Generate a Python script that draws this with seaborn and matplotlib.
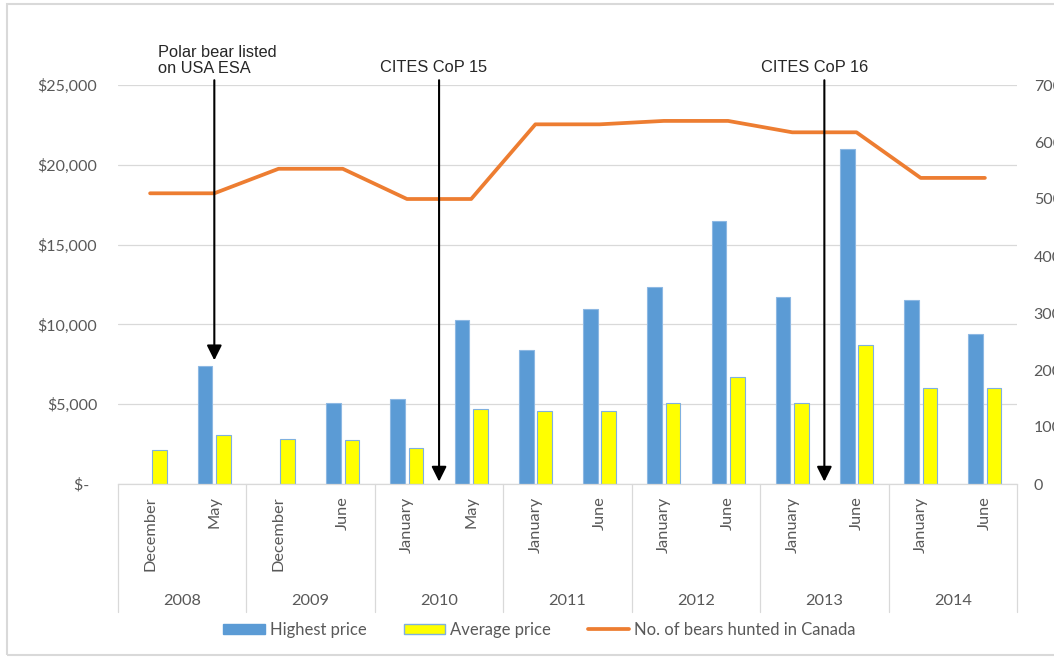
import numpy as np
import pandas as pd
import matplotlib
matplotlib.use("Agg")
import matplotlib.pyplot as plt
import seaborn as sns
from matplotlib.patches import Rectangle, Patch
from matplotlib.lines import Line2D
from matplotlib.ticker import FuncFormatter, FixedLocator
import matplotlib.transforms as mtransforms

# ---------------- data ----------------
months = ["December", "May", "December", "June", "January", "May", "January",
          "June", "January", "June", "January", "June", "January", "June"]
years = ["2008", "2008", "2009", "2009", "2010", "2010", "2011",
         "2011", "2012", "2012", "2013", "2013", "2014", "2014"]
highest_price = [np.nan, 7400, np.nan, 5100, 5350, 10250, 8400,
                 10950, 12350, 16450, 11700, 21000, 11500, 9400]
average_price = [2100, 3100, 2850, 2750, 2250, 4700, 4600,
                 4550, 5100, 6700, 5100, 8700, 6000, 6000]
bears_hunted = [510, 510, 553, 553, 500, 500, 631,
                631, 637, 637, 617, 617, 537, 537]
series_names = ["Highest price", "Average price", "No. of bears hunted in Canada"]
events = ["Polar bear listed\non USA ESA", "CITES CoP 15", "CITES CoP 16"]
event_x = [1, 4.5, 10.5]
event_tip = [7750, 150, 150]

# ---------------- style ----------------
sns.set_style("white")
plt.rcParams["font.family"] = ["Lato", "DejaVu Sans"]
BLUE = "#5B9BD5"
YELLOW = "#FFFF00"
ORANGE = "#ED7D31"
GRID = "#D9D9D9"
LABEL = "#595959"
ANN_FONT = ["Liberation Sans", "DejaVu Sans"]

slots = [f"{y}-{i}-{m}" for i, (y, m) in enumerate(zip(years, months))]
df = pd.DataFrame({
    "slot": slots * 2,
    "series": [series_names[0]] * len(slots) + [series_names[1]] * len(slots),
    "value": highest_price + average_price,
}).dropna()

fig = plt.figure(figsize=(10.54, 6.58), dpi=100)
ax = fig.add_axes([118 / 1054, 1 - 484 / 658, (1017 - 118) / 1054, (484 - 85) / 658])

sns.barplot(data=df, x="slot", y="value", hue="series", order=slots,
            hue_order=series_names[:2],
            palette={series_names[0]: BLUE, series_names[1]: YELLOW},
            width=0.572, gap=0.2, errorbar=None, legend=False, ax=ax,
            saturation=1)
for cont, ec in zip(ax.containers, ["#8DB8E3", "#7FB0DF"]):
    for p in cont:
        p.set_edgecolor(ec)
        p.set_linewidth(0.8)

n = len(slots)
ax.set_xlim(-0.5, n - 0.5)
ax.set_ylim(0, 25000)
ax.yaxis.set_major_locator(FixedLocator(np.arange(0, 25001, 5000)))
ax.yaxis.set_major_formatter(FuncFormatter(
    lambda v, p: "$-  " if v == 0 else f"${v:,.0f}"))
ax.grid(axis="y", color=GRID, lw=0.9)
ax.grid(axis="x", visible=False)
ax.set_axisbelow(True)
for s in ["top", "left", "right"]:
    ax.spines[s].set_visible(False)
ax.spines["bottom"].set_color(GRID)
ax.spines["bottom"].set_linewidth(0.9)
ax.set_xlabel("")
ax.set_ylabel("")
ax.set_xticks(range(n))
ax.set_xticklabels(months, rotation=90, va="top", ha="center")
ax.tick_params(axis="x", length=0, pad=9, labelsize=11.8, labelcolor=LABEL)
ax.tick_params(axis="y", length=0, pad=15, labelsize=11.5, labelcolor=LABEL)

# year separators and labels (multi-level category axis)
tr = mtransforms.blended_transform_factory(ax.transData, ax.transAxes)
uniq_years = list(dict.fromkeys(years))
start = 0
bounds = [-0.5]
for yr in uniq_years:
    cnt = years.count(yr)
    center = start + (cnt - 1) / 2
    ax.text(center, -0.293, yr, transform=tr, ha="center", va="center",
            fontsize=11.8, color=LABEL)
    start += cnt
    bounds.append(start - 0.5)
for b in bounds:
    ax.plot([b, b], [0, -0.321], transform=tr, color=GRID, lw=0.9, clip_on=False)

# secondary axis: line
ax2 = ax.twinx()
sns.lineplot(x=np.arange(n), y=bears_hunted, ax=ax2, color=ORANGE, lw=2.7,
             solid_capstyle="round")
ax2.set_ylim(0, 700)
ax2.yaxis.set_major_locator(FixedLocator(np.arange(0, 701, 100)))
ax2.grid(False)
for s in ax2.spines.values():
    s.set_visible(False)
ax2.tick_params(axis="y", length=0, pad=12, labelsize=11.5, labelcolor=LABEL)
for lab in ax2.get_yticklabels():
    lab.set_ha("left")
ax2.set_ylabel("")
ax.set_xlim(-0.5, n - 0.5)

# event annotations
for txt, ex, tip in zip(events, event_x, event_tip):
    ax2.annotate("", xy=(ex, tip * 700 / 25000), xycoords="data",
                 xytext=(ex, 1.012), textcoords=("data", "axes fraction"),
                 arrowprops=dict(arrowstyle="-|>,head_length=0.6,head_width=0.3",
                                 color="black", lw=1.5, mutation_scale=15,
                                 shrinkA=0, shrinkB=0),
                 annotation_clip=False)
ax2.text(0.12, 1.062, events[0], transform=tr, ha="left", va="center",
         fontsize=11.8, family=ANN_FONT, color="#262626", linespacing=1.12)
ax2.text(4.42, 1.043, events[1], transform=tr, ha="center", va="center",
         fontsize=11.8, family=ANN_FONT, color="#262626")
ax2.text(10.35, 1.043, events[2], transform=tr, ha="center", va="center",
         fontsize=11.8, family=ANN_FONT, color="#262626")

# legend
handles = [Patch(facecolor=BLUE, edgecolor=BLUE),
           Patch(facecolor=YELLOW, edgecolor="#7FB0DF"),
           Line2D([0], [0], color=ORANGE, lw=2.7)]
fig.legend(handles, series_names, loc="center", bbox_to_anchor=(0.512, 0.043),
           ncol=3, frameon=False, fontsize=12, labelcolor=LABEL,
           handlelength=2.5, handleheight=0.6, handletextpad=0.3,
           columnspacing=2.2)

# chart frame
fig.add_artist(Rectangle((7 / 1054, 1 - 655 / 658), 1.2, (655 - 4) / 658,
                         transform=fig.transFigure, fill=False,
                         edgecolor=GRID, lw=1.5))

fig.savefig("out.png", dpi=100)
